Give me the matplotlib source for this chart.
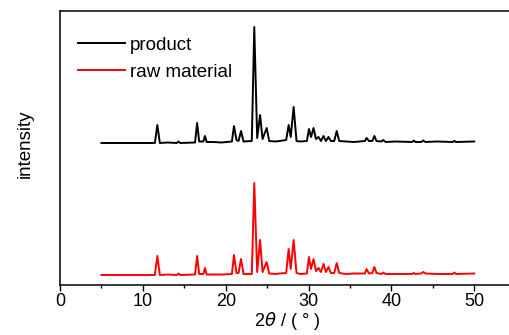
import numpy as np
import matplotlib
matplotlib.use('Agg')
import matplotlib.pyplot as plt
from matplotlib.ticker import MultipleLocator

plt.rcParams['font.family'] = ['Liberation Sans', 'DejaVu Sans']
plt.rcParams['mathtext.fontset'] = 'dejavusans'

#%% datos (2theta, intensidad sobre la linea base)
two_theta = [5, 11.45, 11.75, 12.05, 13.0, 14.1, 14.3, 14.5, 16.3, 16.55,
             16.8, 17.3, 17.5, 17.7, 18.5, 19.5, 20.75, 21.0, 21.3, 21.55,
             21.85, 22.15, 23.15, 23.45, 23.8, 24.15, 24.45, 24.95, 25.25, 26.0,
             26.5, 27.3, 27.6, 27.85, 28.2, 28.55, 29.0, 29.8, 30.05, 30.3,
             30.6, 30.9, 31.2, 31.5, 31.8, 32.1, 32.4, 32.7, 33.1, 33.4,
             33.7, 34.5, 35.5, 36.8, 37.0, 37.3, 37.7, 37.95, 38.2, 38.8,
             39.0, 39.3, 40.5, 42.5, 42.7, 42.9, 43.6, 43.85, 44.1, 45.5,
             47.4, 47.6, 47.8, 50]

product = [0, 0, 18, 0, 0.5, 0, 1.5, 0, 0.5, 20,
           1.5, 1.5, 7, 1, 1, 0.5, 1.5, 17, 3, 2,
           12, 1.5, 2, 116, 5, 28, 4, 15, 2, 1.5,
           2, 3, 18, 6, 36, 2, 1.5, 2, 14, 6,
           15, 4, 6, 2, 7, 2, 6, 2, 2, 12,
           2, 1.5, 1, 2, 5, 2, 2, 7, 2, 1.5,
           3, 1, 1.5, 1, 2.5, 1, 1, 2.5, 1, 1.5,
           1, 2, 1, 1.5]

raw_material = [0, 0, 19, 0, 0.5, 0, 1.5, 0, 0.5, 19,
                1, 1, 7, 0.5, 0.5, 0.5, 1, 20, 2, 2,
                16, 1, 1, 92, 3, 35, 3, 13, 1.5, 1,
                1.5, 2, 26, 6, 35, 2, 1, 1.5, 18, 6,
                16, 4, 7, 3, 11, 3, 8, 2, 2, 12,
                2, 1, 1.5, 1.5, 6, 1.5, 2, 8, 2, 1,
                2.5, 1, 1, 1, 2, 1, 1.5, 3, 1.5, 1,
                1, 2.5, 1, 1.5]

offset_product = 142
offset_raw = 10

#%% grafico
fig = plt.figure(figsize=(5.09, 3.35), dpi=100)
ax = fig.add_axes([60/509, 50/335, 454/509, 274/335])

ax.plot(two_theta, np.array(product) + offset_product, color='black', lw=1.4, label='product')
ax.plot(two_theta, np.array(raw_material) + offset_raw, color='red', lw=1.4, label='raw material')

ax.set_xlim(0, 54.8)
ax.set_ylim(0, 274)
ax.xaxis.set_major_locator(MultipleLocator(10))
ax.xaxis.set_minor_locator(MultipleLocator(5))
ax.set_yticks([])
ax.tick_params(axis='x', which='major', direction='out', length=4, width=1, labelsize=13, pad=2)
ax.tick_params(axis='x', which='minor', direction='out', length=2.5, width=1)
for s in ax.spines.values():
    s.set_linewidth(1.1)

ax.set_xlabel(r'2$\mathit{\theta}$ / ( ° )', fontsize=13, labelpad=0)
ax.set_ylabel('intensity', fontsize=13.5)
ax.yaxis.set_label_coords(-0.057, 0.515)

ax.legend(loc='upper left', frameon=False, fontsize=13.5, handlelength=2.5,
          handletextpad=0.3, labelspacing=0.55, borderaxespad=0.3,
          bbox_to_anchor=(0.01, 0.955))

fig.savefig('out.png', dpi=100)
